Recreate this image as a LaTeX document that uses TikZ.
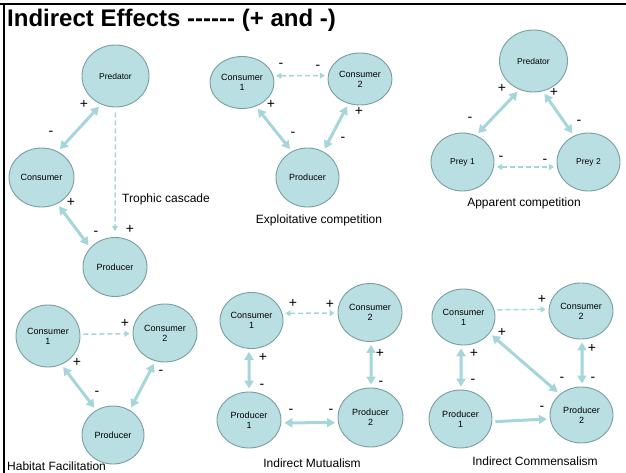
\documentclass[tikz,border=0pt]{standalone}
\usepackage{fontspec}
\setmainfont{Liberation Sans}[Ligatures=TeXOff]
\usetikzlibrary{arrows.meta,shapes.geometric}
\definecolor{nfill}{RGB}{185,223,226}
\definecolor{ndraw}{RGB}{122,158,160}
\definecolor{acol}{RGB}{166,213,218}
\begin{document}
\begin{tikzpicture}[x=1pt,y=-1pt,
  sp/.style={ellipse, draw=ndraw, fill=nfill, line width=0.9pt, inner sep=0pt, align=center, font=\fontsize{9}{10}\selectfont},
  sz/.style 2 args={minimum width=#1pt, minimum height=#2pt},
  sgn/.style={font=\fontsize{14}{14}\selectfont, inner sep=0pt},
  capt/.style={font=\fontsize{12}{14}\selectfont, inner sep=0pt},
  thk/.style={acol, line width=3pt, shorten <=3pt, shorten >=3pt},
  dbl/.style={thk, {Triangle[length=8pt,width=9pt]}-{Triangle[length=8pt,width=9pt]}},
  one/.style={thk, -{Triangle[length=8pt,width=9pt]}},
  dsh/.style={acol, line width=1.5pt, dash pattern=on 5pt off 3pt, shorten <=3pt, shorten >=3pt},
  ddbl/.style={dsh, {Triangle[length=5pt,width=6pt]}-{Triangle[length=5pt,width=6pt]}},
  done/.style={dsh, -{Triangle[length=5pt,width=6pt]}}
]
\useasboundingbox (0,0) rectangle (626,473);
\draw[line width=2.5pt] (0,4) -- (626,4);
\draw[line width=2.5pt] (4,4) -- (4,473);
\node[anchor=base west, inner sep=0pt, font=\fontsize{24}{24}\selectfont\bfseries] (title) at (7,27) {Indirect Effects ------ (+ and -)};

% Panel 1: trophic cascade
\node[sp, sz={67}{62}, font=\fontsize{8.5}{10}\selectfont] (aPred) at (115.5,76) {Predator};
\node[sp, sz={65}{59}] (aCons) at (41.5,177.5) {Consumer};
\node[sp, sz={64}{59}] (aProd) at (115,267) {Producer};
\draw[dbl] (aPred.243) -- (aCons.58);
\draw[dbl] (aCons.301) -- (aProd.142);
\draw[done, shorten <=5pt, shorten >=6pt] (aPred.south) -- (aProd.north);
\node[sgn] (aS1) at (84,104) {+};
\node[sgn] (aS2) at (51,133) {-};
\node[sgn] (aS3) at (71,202) {+};
\node[sgn] (aS4) at (96,233) {-};
\node[sgn] (aS5) at (130,229) {+};
\node[capt, anchor=west] (aCap) at (122,199) {Trophic cascade};

% Panel 2: exploitative competition
\node[sp, sz={64}{52}] (bC1) at (242,82.5) {Consumer\\1};
\node[sp, sz={64}{52}] (bC2) at (360,79) {Consumer\\2};
\node[sp, sz={63}{59}] (bPr) at (307.5,177.5) {Producer};
\draw[ddbl] (bC1.12) -- (bC2.174);
\draw[dbl] (bC1.300) -- (bPr.121);
\draw[dbl] (bC2.245) -- (bPr.59);
\node[sgn] (bS1) at (281,65) {-};
\node[sgn] (bS2) at (318,67) {-};
\node[sgn] (bS3) at (271,104) {+};
\node[sgn] (bS4) at (359,111) {+};
\node[sgn] (bS5) at (293,134) {-};
\node[sgn] (bS6) at (343,139) {-};
\node[capt] (bCap) at (319,220) {Exploitative competition};

% Panel 3: apparent competition
\node[sp, sz={68}{62}, font=\fontsize{8.5}{10}\selectfont] (cPd) at (533.5,61) {Predator};
\node[sp, sz={63}{58}, font=\fontsize{8.5}{10}\selectfont] (cY1) at (462.5,162) {Prey 1};
\node[sp, sz={63}{58}, font=\fontsize{8.5}{10}\selectfont] (cY2) at (588.5,162) {Prey 2};
\draw[dbl] (cPd.244) -- (cY1.63);
\draw[dbl] (cPd.287) -- (cY2.119);
\draw[ddbl] (cY1.351) -- (cY2.189);
\node[sgn] (cS1) at (502,88) {+};
\node[sgn] (cS2) at (554,92) {+};
\node[sgn] (cS3) at (470,119) {-};
\node[sgn] (cS4) at (579,122) {-};
\node[sgn] (cS5) at (501,158) {-};
\node[sgn] (cS6) at (545,161) {-};
\node[capt] (cCap) at (524,203) {Apparent competition};

% Panel 4: habitat facilitation
\node[sp, sz={64}{62}] (dC1) at (48,336) {Consumer\\1};
\node[sp, sz={64}{58}] (dC2) at (165,333) {Consumer\\2};
\node[sp, sz={62}{58}] (dPr) at (113,435) {Producer};
\draw[done] (dC1.3) -- (dC2.181);
\draw[dbl] (dC1.295) -- (dPr.124);
\draw[dbl] (dC2.251) -- (dPr.56);
\node[sgn] (dS1) at (125,323) {+};
\node[sgn] (dS2) at (77,362) {+};
\node[sgn] (dS3) at (97,393) {-};
\node[sgn] (dS4) at (161,372) {-};
\node[capt, anchor=west] (dCap) at (7,466) {Habitat Facilitation};

% Panel 5: indirect mutualism
\node[sp, sz={63}{56}] (eC1) at (251.5,320.5) {Consumer\\1};
\node[sp, sz={64}{58}] (eC2) at (370,312.5) {Consumer\\2};
\node[sp, sz={64}{56}] (eP1) at (249,420) {Producer\\1};
\node[sp, sz={65}{59}] (eP2) at (370.5,417.5) {Producer\\2};
\draw[ddbl] (eC1.13) -- (eC2.181);
\draw[dbl] (eC1.265) -- (eP1.90);
\draw[dbl] (eC2.272) -- (eP2.89);
\draw[dbl] (eP1.355) -- (eP2.189);
\node[sgn] (eS1) at (293,303) {+};
\node[sgn] (eS2) at (330,304) {+};
\node[sgn] (eS3) at (263,357) {+};
\node[sgn] (eS4) at (262,386) {-};
\node[sgn] (eS5) at (380,353) {+};
\node[sgn] (eS6) at (381,383) {-};
\node[sgn] (eS7) at (291,411) {-};
\node[sgn] (eS8) at (331,411) {-};
\node[capt] (eCap) at (312,463) {Indirect Mutualism};

% Panel 6: indirect commensalism
\node[sp, sz={63}{56}] (fC1) at (463.5,317) {Consumer\\1};
\node[sp, sz={64}{56}] (fC2) at (581,311) {Consumer\\2};
\node[sp, sz={63}{58}] (fP1) at (460.5,419) {Producer\\1};
\node[sp, sz={63}{56}] (fP2) at (581.5,415) {Producer\\2};
\draw[done] (fC1.13) -- (fC2.177);
\draw[dbl] (fC1.265) -- (fP1.89);
\draw[dbl] (fC2.272) -- (fP2.89);
\draw[dbl] (fC1.328) -- (fP2.136);
\draw[one] (fP1.355) -- (fP2.187);
\node[sgn] (fS1) at (542,299) {+};
\node[sgn] (fS2) at (502,332) {+};
\node[sgn] (fS3) at (474,353) {+};
\node[sgn] (fS4) at (473,381) {-};
\node[sgn] (fS5) at (562,379) {-};
\node[sgn] (fS6) at (593,379) {-};
\node[sgn] (fS7) at (592,348) {+};
\node[sgn] (fS8) at (542,408) {-};
\node[capt] (fCap) at (535,461) {Indirect Commensalism};
\end{tikzpicture}
\end{document}
